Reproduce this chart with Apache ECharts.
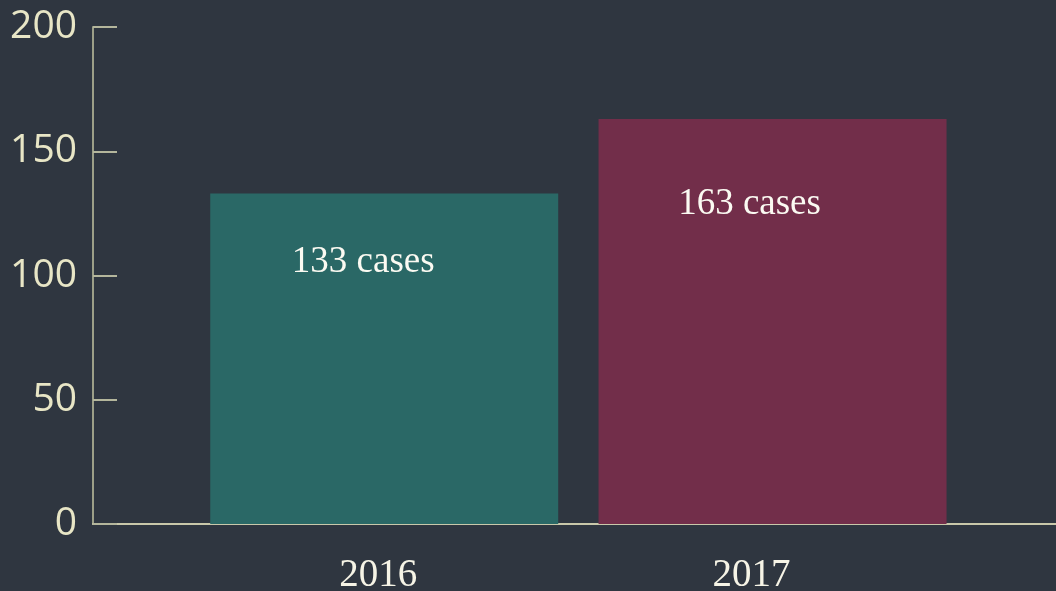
<!DOCTYPE html>
<html>
<head>
<meta charset="utf-8">
<script src="https://cdn.jsdelivr.net/npm/echarts@6/dist/echarts.min.js"></script>
<style>
html,body{margin:0;padding:0;background:#2f3640;}
#chart{width:1056px;height:591px;}
</style>
</head>
<body>
<div id="chart"></div>
<script>
const categories = ['2016', '2017'];
const values = [133, 163];
const labelTexts = ['133 cases', '163 cases'];
const yTicks = [0, 50, 100, 150, 200];

const barColors = ['#2a6866', '#722e4a'];
const labelOffsets = [[153, 69], [151, 85]];
const catShift = [12, 42];

const chart = echarts.init(document.getElementById('chart'));
const option = {
  backgroundColor: '#2f3640',
  animation: false,
  grid: { left: 93, right: 0, top: 27, bottom: 67, containLabel: false, outerBoundsMode: 'none' },
  xAxis: {
    type: 'value',
    min: -0.75,
    max: 1.73,
    splitLine: { show: false },
    axisTick: { show: false },
    axisLine: { show: true, onZero: false, lineStyle: { color: '#c9c8aa', width: 2 } },
    axisLabel: {
      customValues: categories.map((c, i) => i),
      margin: 32,
      formatter: function (v) {
        const i = Math.round(v);
        return '{c' + i + '|' + categories[i] + '}';
      },
      rich: {
        c0: { fontFamily: 'Liberation Serif', fontSize: 39, color: '#f6f4e6', padding: [0, catShift[0], 0, 0] },
        c1: { fontFamily: 'Liberation Serif', fontSize: 39, color: '#f6f4e6', padding: [0, catShift[1], 0, 0] }
      }
    }
  },
  yAxis: {
    type: 'value',
    min: yTicks[0],
    max: yTicks[yTicks.length - 1],
    interval: yTicks[1] - yTicks[0],
    splitLine: { show: false },
    axisLine: { show: true, onZero: false, lineStyle: { color: '#9c9f88', width: 2 } },
    axisTick: { show: true, inside: true, length: 24, lineStyle: { color: '#b4b69c', width: 2 } },
    axisLabel: {
      margin: 16,
      fontFamily: 'Open Sans',
      fontSize: 39,
      color: '#e8e6c6'
    }
  },
  series: [{
    type: 'bar',
    barWidth: 348,
    data: values.map((v, i) => ({
      value: [i, v],
      itemStyle: { color: barColors[i] },
      label: {
        show: true,
        position: labelOffsets[i],
        align: 'center',
        verticalAlign: 'middle',
        formatter: labelTexts[i],
        fontFamily: 'Liberation Serif',
        fontSize: 37,
        color: '#fbfaf2'
      }
    }))
  }]
};
chart.setOption(option);
</script>
</body>
</html>
